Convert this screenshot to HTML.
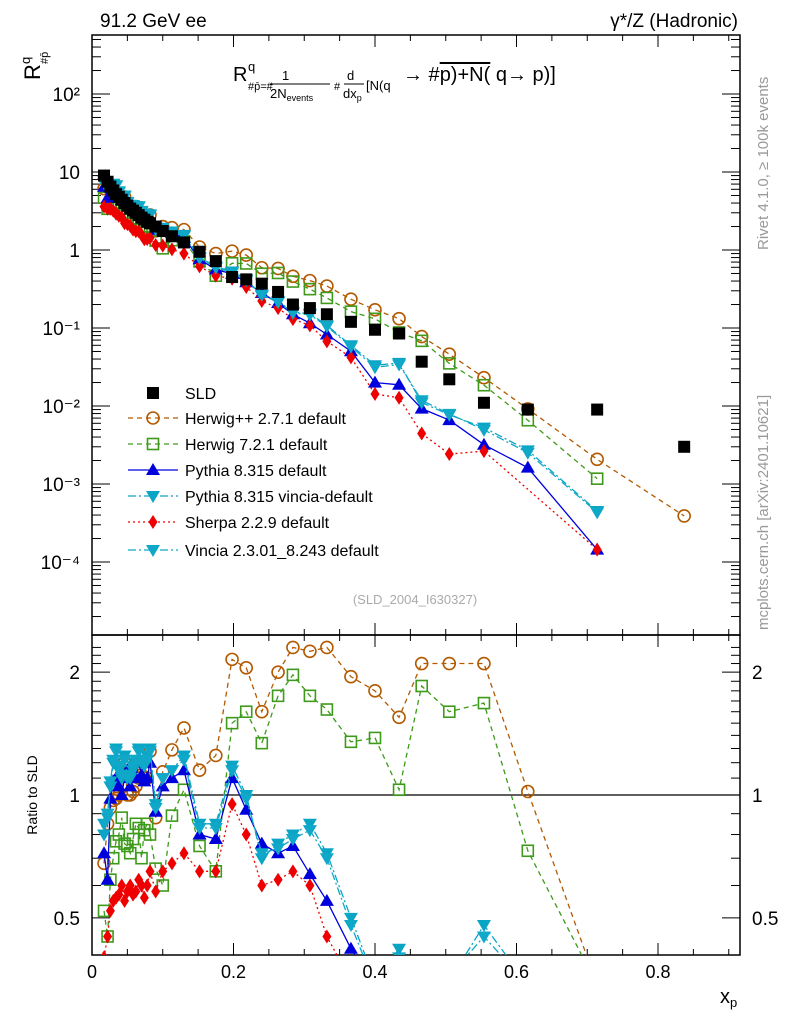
<!DOCTYPE html>
<html><head><meta charset="utf-8"><style>
html,body{margin:0;padding:0;background:#fff;overflow:hidden;width:786px;height:1024px;}
svg{display:block;font-family:"Liberation Sans",sans-serif;}
</style></head><body>
<svg id="c" width="786" height="1024" viewBox="0 0 786 1024" xmlns="http://www.w3.org/2000/svg">
<text x="100" y="27" font-size="19">91.2 GeV ee</text>
<text x="738" y="27" font-size="19" text-anchor="end">γ*/Z (Hadronic)</text>
<text transform="translate(768,250) rotate(-90)" font-size="15" fill="#999">Rivet 4.1.0, ≥ 100k events</text>
<text transform="translate(768,630) rotate(-90)" font-size="15" fill="#999">mcplots.cern.ch [arXiv:2401.10621]</text>
<g transform="translate(40,80) rotate(-90)"><text font-size="22" x="0" y="0">R</text><text font-size="13" x="16" y="-10">q</text><text font-size="11" x="16" y="8">#p̄</text></g>
<g font-size="20">
<text x="233" y="81">R</text><text x="248" y="71" font-size="13">q</text>
<text x="248" y="90" font-size="11">#p̄=#</text><text x="282" y="80" font-size="13">1</text><line x1="270" y1="84" x2="330" y2="84" stroke="#000"/><text x="270" y="98" font-size="13">2N<tspan font-size="9" dy="3">events</tspan></text>
<text x="334" y="90" font-size="11">#</text><text x="347" y="80" font-size="13">d</text><line x1="344" y1="84" x2="364" y2="84" stroke="#000"/><text x="343" y="98" font-size="13">dx<tspan font-size="9" dy="3">p</tspan></text>
<text x="366" y="90" font-size="13">[N(q</text>
<text x="403" y="81">→  #<tspan text-decoration="overline">p)+N(</tspan> q→  p)]</text>
</g>
<text x="415" y="604" font-size="13" fill="#aaa" text-anchor="middle">(SLD_2004_I630327)</text>
<text transform="translate(37,795) rotate(-90)" font-size="14" text-anchor="middle">Ratio to SLD</text>
<text x="720" y="1003" font-size="20">x<tspan font-size="13" dy="4">p</tspan></text>
<g id="plot"></g>
</svg>
<script>
const xs=[0.017,0.022,0.026,0.03,0.034,0.038,0.042,0.046,0.05,0.054,0.058,0.062,0.066,0.07,0.074,0.078,0.082,0.09,0.1,0.113,0.13,0.152,0.175,0.198,0.218,0.24,0.263,0.284,0.308,0.332,0.366,0.4,0.434,0.466,0.505,0.554,0.616,0.714,0.837];
const sld=[9.0,7.5,6.5,5.8,5.2,4.8,4.4,4.0,3.7,3.4,3.2,3.0,2.8,2.6,2.45,2.3,2.2,2.0,1.75,1.5,1.25,0.95,0.72,0.45,0.42,0.37,0.29,0.2,0.18,0.15,0.12,0.095,0.085,0.037,0.022,0.011,0.009,0.009,0.003];
const rHerwigpp=[0.68,0.85,0.93,0.97,0.98,1.0,1.05,1.2,1.0,1.0,1.02,1.05,1.1,1.12,1.1,1.1,1.28,0.88,1.14,1.29,1.46,1.15,1.25,2.15,2.05,1.6,2.0,2.3,2.25,2.3,1.95,1.8,1.55,2.1,2.1,2.1,1.02,0.23,0.13];
const rHerwig7=[0.52,0.45,0.62,0.7,0.77,0.8,0.88,0.76,0.75,0.72,0.78,0.85,0.83,0.7,0.82,0.85,0.8,0.66,0.6,0.89,1.03,0.75,0.65,1.5,1.6,1.34,1.75,1.97,1.75,1.62,1.35,1.38,1.03,1.85,1.6,1.68,0.73,0.13,null];
const rPythia=[0.72,0.62,0.98,1.08,1.1,1.05,1.0,1.1,1.15,1.05,1.1,1.1,1.2,1.12,1.08,1.1,1.2,0.91,1.05,1.1,1.15,0.8,0.78,1.1,0.92,0.76,0.72,0.75,0.64,0.55,0.42,0.21,0.22,0.25,0.3,0.29,0.18,0.016,null];
const rPyVincia=[0.8,0.88,1.05,1.2,1.3,1.15,1.1,1.25,1.1,1.1,1.15,1.2,1.3,1.2,1.2,1.25,1.3,0.95,1.1,1.15,1.25,0.85,0.85,1.18,1.0,0.7,0.76,0.8,0.85,0.72,0.5,0.35,0.42,0.3,0.35,0.48,0.3,0.05,null];
const rVincia=[0.85,0.9,1.08,1.22,1.28,1.18,1.12,1.22,1.12,1.12,1.18,1.22,1.28,1.22,1.18,1.22,1.28,0.93,1.1,1.15,1.22,0.83,0.83,1.15,0.98,0.72,0.74,0.78,0.82,0.7,0.48,0.33,0.4,0.32,0.36,0.45,0.28,0.048,null];
const rSherpa=[0.4,0.45,0.52,0.55,0.56,0.57,0.6,0.55,0.58,0.6,0.57,0.58,0.62,0.6,0.56,0.6,0.65,0.58,0.65,0.68,0.72,0.65,0.65,0.95,0.8,0.6,0.62,0.65,0.6,0.45,0.35,0.15,0.15,0.12,0.11,0.24,null,0.016,null];
const xTicks=[0,0.2,0.4,0.6,0.8];
const xTickLabels=["0","0.2","0.4","0.6","0.8"];
const yDecades=[-4,-3,-2,-1,0,1,2];
const yTickLabels=["10⁻⁴","10⁻³","10⁻²","10⁻¹","1","10","10²"];
const rTicks=[0.5,1,2];
const rTickLabels=["0.5","1","2"];

const NS="http://www.w3.org/2000/svg";
const g=document.getElementById('plot');
const L=92,R=740,T1=35,B1=635,T2=635,B2=955;
const X=v=>L+v*707.5;
const Y=v=>250-Math.log10(v)*78;
const YR=v=>795-Math.log10(v)*408;
const clampY=(y,t,b)=>Math.max(t-30,Math.min(b+30,y));
function el(t,a,p){const e=document.createElementNS(NS,t);for(const k in a)e.setAttribute(k,a[k]);(p||g).appendChild(e);return e;}
const clip1=el('clipPath',{id:'c1'});el('rect',{x:L,y:T1,width:R-L,height:B1-T1},clip1);
const clip2=el('clipPath',{id:'c2'});el('rect',{x:L,y:T2,width:R-L,height:B2-T2},clip2);

let f1=el('rect',{x:L,y:T1,width:R-L,height:B1-T1,fill:'none',stroke:'#000','stroke-width':1.5});

let f2=el('rect',{x:L,y:T2,width:R-L,height:B2-T2,fill:'none',stroke:'#000','stroke-width':1.5});

let one=el('line',{x1:L,x2:R,y1:YR(1),y2:YR(1),stroke:'#000','stroke-width':1.2});


for(let v=0;v<=0.915;v+=0.05){const x=X(v);const maj=Math.abs(v/0.2-Math.round(v/0.2))<1e-6;const len=maj?12:6;
 el('line',{x1:x,x2:x,y1:B2,y2:B2-len,stroke:'#000'});el('line',{x1:x,x2:x,y1:T2,y2:T2+len,stroke:'#000'});
 el('line',{x1:x,x2:x,y1:B1,y2:B1-len,stroke:'#000'});el('line',{x1:x,x2:x,y1:T1,y2:T1+len,stroke:'#000'});}
xTicks.forEach((v,i)=>{const t=el('text',{x:X(v),y:978,'font-size':18,'text-anchor':'middle'});t.textContent=xTickLabels[i];
 });
for(let d=-5;d<=2;d++){for(let m=1;m<10;m++){const v=m*Math.pow(10,d);const y=Y(v);if(y<T1||y>B1)continue;const len=m==1?18:9;
 el('line',{x1:L,x2:L+len,y1:y,y2:y,stroke:'#000'});el('line',{x1:R,x2:R-len,y1:y,y2:y,stroke:'#000'});}}
yDecades.forEach((d,i)=>{const t=el('text',{x:80,y:Y(Math.pow(10,d))+7,'font-size':19,'text-anchor':'end'});t.textContent=yTickLabels[i];
 });
for(let v=0.5;v<=2.4;v+=0.1){const y=YR(v);const maj=[0.5,1,2].some(q=>Math.abs(q-v)<1e-6);const len=maj?18:9;
 el('line',{x1:L,x2:L+len,y1:y,y2:y,stroke:'#000'});el('line',{x1:R,x2:R-len,y1:y,y2:y,stroke:'#000'});}
rTicks.forEach((v,i)=>{let t=el('text',{x:80,y:YR(v)+7,'font-size':19,'text-anchor':'end'});t.textContent=rTickLabels[i];
 
 t=el('text',{x:752,y:YR(v)+7,'font-size':19});t.textContent=rTickLabels[i];
 });

function marker(p,type,color,x,y){
 if(type=='sq')el('rect',{x:x-6,y:y-6,width:12,height:12,fill:color},p);
 else if(type=='osq')el('rect',{x:x-5.5,y:y-5.5,width:11,height:11,fill:'none',stroke:color,'stroke-width':1.6},p);
 else if(type=='oc')el('circle',{cx:x,cy:y,r:6,fill:'none',stroke:color,'stroke-width':1.6},p);
 else if(type=='tu')el('polygon',{points:`${x},${y-7} ${x-7},${y+5} ${x+7},${y+5}`,fill:color},p);
 else if(type=='td')el('polygon',{points:`${x},${y+7} ${x-7},${y-5} ${x+7},${y-5}`,fill:color},p);
 else if(type=='di')el('polygon',{points:`${x},${y-7} ${x-4.5},${y} ${x},${y+7} ${x+4.5},${y}`,fill:color},p);
}
const series=[
 {name:'herwigpp',r:rHerwigpp,c:'#b35900',m:'oc',d:'5,4',lbl:'Herwig++ 2.7.1 default'},
 {name:'herwig7',r:rHerwig7,c:'#3d9a1a',m:'osq',d:'5,4',lbl:'Herwig 7.2.1 default'},
 {name:'pythia',r:rPythia,c:'#0000dd',m:'tu',d:'',lbl:'Pythia 8.315 default'},
 {name:'pythia-vincia',r:rPyVincia,c:'#0aa5c5',m:'td',d:'8,3,2,3',lbl:'Pythia 8.315 vincia-default'},
 {name:'sherpa',r:rSherpa,c:'#ee0000',m:'di',d:'2,3',lbl:'Sherpa 2.2.9 default'},
 {name:'vincia',r:rVincia,c:'#10a8c8',m:'td',d:'8,3,2,3',lbl:'Vincia 2.3.01_8.243 default'}];
series.forEach(s=>{
 const top=el('g',{'clip-path':'url(#c1)'});
 const bot=el('g',{'clip-path':'url(#c2)'});
 let p1='',p2='';
 xs.forEach((x,i)=>{const r=s.r[i];if(r==null)return;const v=sld[i]*r;
  p1+=(p1?'L':'M')+X(x)+','+clampY(Y(v),T1,B1);p2+=(p2?'L':'M')+X(x)+','+clampY(YR(r),T2,B2);});
 el('path',{d:p1,fill:'none',stroke:s.c,'stroke-width':1.3,'stroke-dasharray':s.d},top);
 el('path',{d:p2,fill:'none',stroke:s.c,'stroke-width':1.3,'stroke-dasharray':s.d},bot);
 xs.forEach((x,i)=>{const r=s.r[i];if(r==null)return;
  const y1=Y(sld[i]*r),y2=YR(r);
  if(y1>T1-8&&y1<B1+8)marker(top,s.m,s.c,X(x),y1);
  if(y2>T2-8&&y2<B2+8)marker(bot,s.m,s.c,X(x),y2);});
});
const dg=el('g',{'clip-path':'url(#c1)'});
xs.forEach((x,i)=>marker(dg,'sq','#000',X(x),Y(sld[i])));
const lg=el('g',{});
const ly=[393,418,444,470,496,522,550];
let e0=el('g',{},lg);
marker(e0,'sq','#000',153,ly[0]);let t0=el('text',{x:185,y:ly[0]+6,'font-size':16},e0);t0.textContent='SLD';
series.forEach((s,i)=>{const e=el('g',{},lg);
 const y=ly[i+1];el('line',{x1:128,x2:178,y1:y,y2:y,stroke:s.c,'stroke-width':1.3,'stroke-dasharray':s.d},e);marker(e,s.m,s.c,153,y);
 const t=el('text',{x:185,y:y+6,'font-size':16},e);t.textContent=s.lbl;});
</script>
</body></html>
